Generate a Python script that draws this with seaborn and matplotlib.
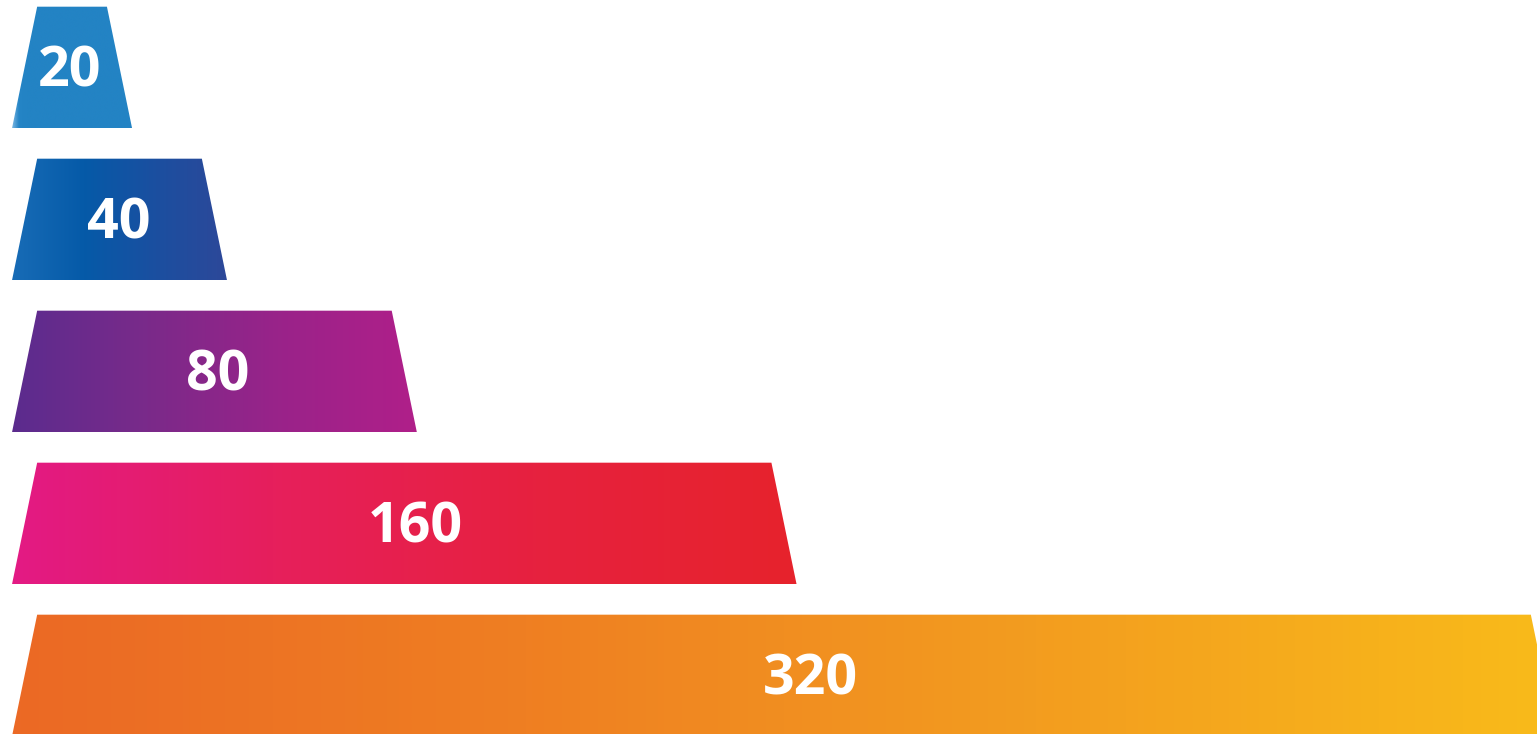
import numpy as np
import pandas as pd
import matplotlib
matplotlib.use('Agg')
import matplotlib.pyplot as plt
import seaborn as sns
from matplotlib.patches import Polygon
from matplotlib.colors import LinearSegmentedColormap

# ***************************************************

stages = ['A', 'B', 'C', 'D', 'E']
values = [20, 40, 80, 160, 320]
labels = ['20', '40', '80', '160', '320']
gradients = [
    ['#7ab6e2', '#2585c6', '#2383c4', '#2383c4'],
    ['#186cb6', '#055aa8', '#1b4fa0', '#2d4899'],
    ['#5b2c8e', '#7a2a8a', '#9a2389', '#b01f8a'],
    ['#e31a84', '#e61f5c', '#e6213f', '#e6232c'],
    ['#eb6925', '#ef7f22', '#f39d1f', '#f9bb1a'],
]

df = pd.DataFrame({'stage': stages, 'value': values})

# ***************************************************

fig = plt.figure(figsize=(15.37, 7.34), dpi=100)
ax = fig.add_axes([0, 0, 1, 1])

sns.barplot(data=df, x='value', y='stage', orient='h', width=0.8, ax=ax, color='white')

slant = 5.3

for i, bar in enumerate(ax.patches):
    bar.set_visible(False)
    y0 = bar.get_y()
    h = bar.get_height()
    w = bar.get_width()
    top, bot = y0, y0 + h
    poly = Polygon([(0, bot), (slant, top), (w, top), (w + slant, bot)],
                   closed=True, facecolor='none', edgecolor='none')
    ax.add_patch(poly)
    cmap = LinearSegmentedColormap.from_list(f'g{i}', gradients[i])
    grad = np.linspace(0, 1, 256).reshape(1, -1)
    if i == 0:
        grad = np.clip(grad * 6, 0, 1)
    im = ax.imshow(grad, cmap=cmap, aspect='auto', extent=[0, w + slant, bot, top],
                   interpolation='bicubic', zorder=2)
    im.set_clip_path(poly)
    ax.text(0.52 * w + slant / 3, y0 + h / 2 + 0.03, labels[i], ha='center', va='center',
            color='white', fontsize=40, fontweight='bold', family='Open Sans', zorder=3)

ax.set_xlim(-2.53, 321.3)
ax.set_ylim(4.385, -0.444)
ax.axis('off')

fig.savefig('out.png', dpi=100, facecolor='white')
